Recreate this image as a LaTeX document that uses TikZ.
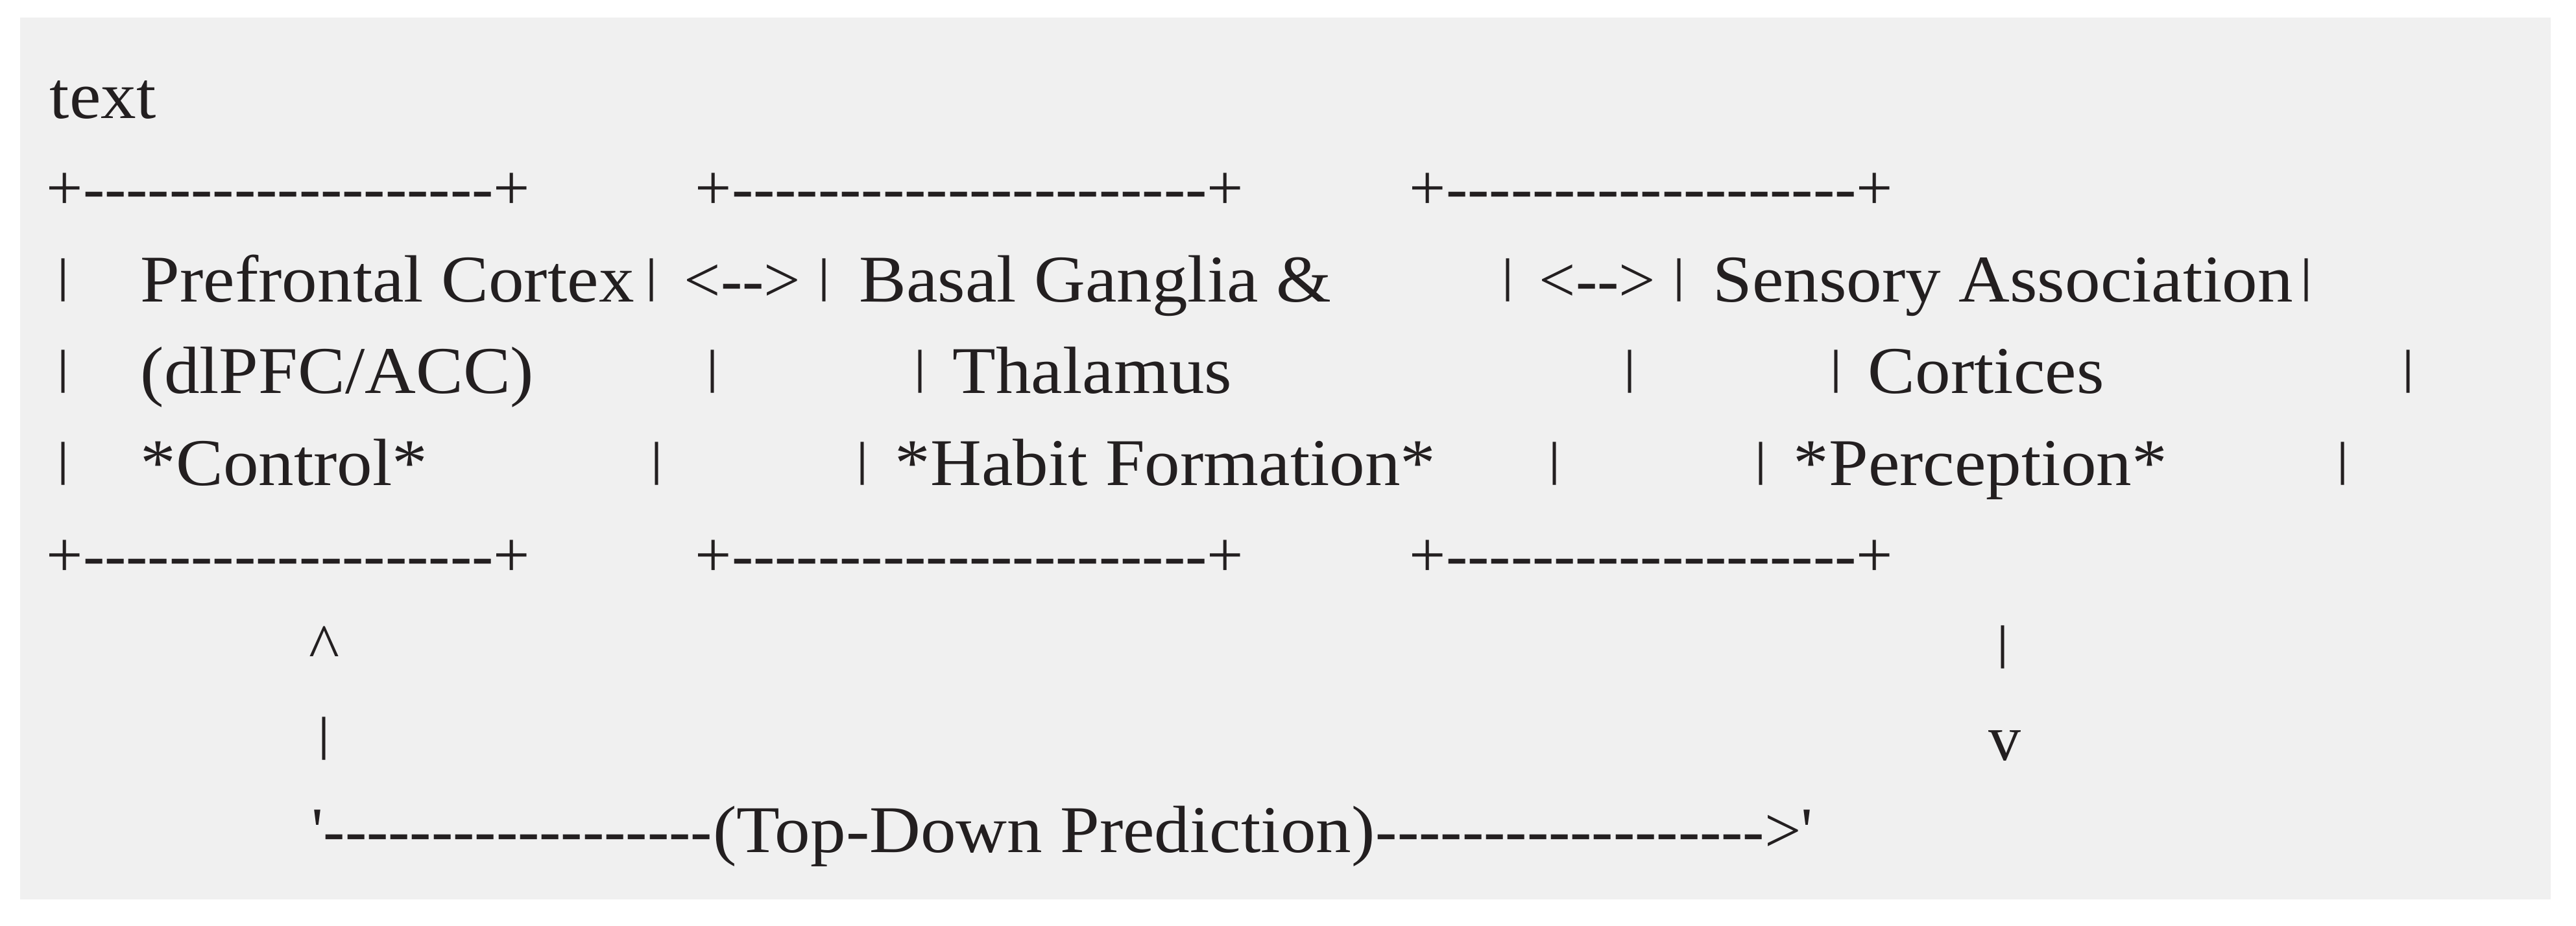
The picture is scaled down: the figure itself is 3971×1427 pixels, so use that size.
\documentclass[tikz,border=0pt]{standalone}
\usepackage{fontspec}
\usepackage{graphicx}
\setmainfont{Liberation Serif}[FakeStretch=1.06]
\newfontfamily\artfamily{Liberation Serif}
\definecolor{panel}{HTML}{F0F0F0}
\definecolor{ink}{HTML}{231F20}
\newcommand{\hyrun}[1]{\foreach \k in {1,...,#1}{-}}
\newcommand{\vbar}{\raisebox{0.158em}{\scalebox{1}[0.73]{|}}}
\tikzset{
  word/.style={anchor=base west, inner sep=0pt, text=ink, font=\fontsize{29.3}{35}\selectfont},
  ascii/.style={anchor=base west, inner sep=0pt, text=ink, font=\artfamily\fontsize{28.45}{34}\selectfont},
  barch/.style={ascii, anchor=base},
}
\begin{document}
\begin{tikzpicture}[x=0.1mm, y=-0.1mm]
	\useasboundingbox (0,0) rectangle (3971,1427);
	\fill[panel] (31,27) rectangle (3932,1387);
	% baselines: 182 + 141.5*row
	\node[word] (head) at (76,182) {text};
	% box edges
	\foreach \r/\s in {323.5/top,889.5/bot}{
		\node[ascii] (pfc\s) at (71,\r) {+\hyrun{19}+};
		\node[ascii] (bg\s) at (1071,\r) {+\hyrun{22}+};
		\node[ascii] (sa\s) at (2172,\r) {+\hyrun{19}+};
	}
	% box sides
	\foreach \x [count=\i] in {98,1004,1270,2324,2588,3555}
		\node[barch] (side1-\i) at (\x,465) {\vbar};
	\foreach \x [count=\i] in {98,1098,1418,2512,2830,3712}
		\node[barch] (side2-\i) at (\x,606.5) {\vbar};
	\foreach \x [count=\i] in {98,1012,1329,2396,2714,3611}
		\node[barch] (side3-\i) at (\x,748) {\vbar};
	% labels
	\node[word] (pfc) at (216,465) {Prefrontal Cortex};
	\node[word] (pfcsub) at (216,606.5) {(dlPFC/ACC)};
	\node[word] (pfcrole) at (216,748) {*Control*};
	\node[word] (bg) at (1324,465) {Basal Ganglia \&};
	\node[word] (bgsub) at (1468,606.5) {Thalamus};
	\node[word] (bgrole) at (1379,748) {*Habit Formation*};
	\node[word] (sa) at (2640,465) {Sensory Association};
	\node[word] (sasub) at (2879,606.5) {Cortices};
	\node[word] (sarole) at (2764,748) {*Perception*};
	\node[ascii] (link1) at (1054,465) {<-{}->};
	\node[ascii] (link2) at (2372,465) {<-{}->};
	% feedback loop
	\node[barch] (up) at (500,1031) {\textasciicircum};
	\node[barch] (upbar) at (500,1172.5) {\vbar};
	\node[barch] (downbar) at (3087,1031) {\vbar};
	\node[barch] (down) at (3090,1172.5) {v};
	\node[ascii] (loopL) at (480,1314) {\textquotesingle\hyrun{18}};
	\node[word] (pred) at (loopL.base east) {(Top-Down Prediction)};
	\node[ascii] (loopR) at (pred.base east) {\hyrun{18}>\textquotesingle};
\end{tikzpicture}
\end{document}
